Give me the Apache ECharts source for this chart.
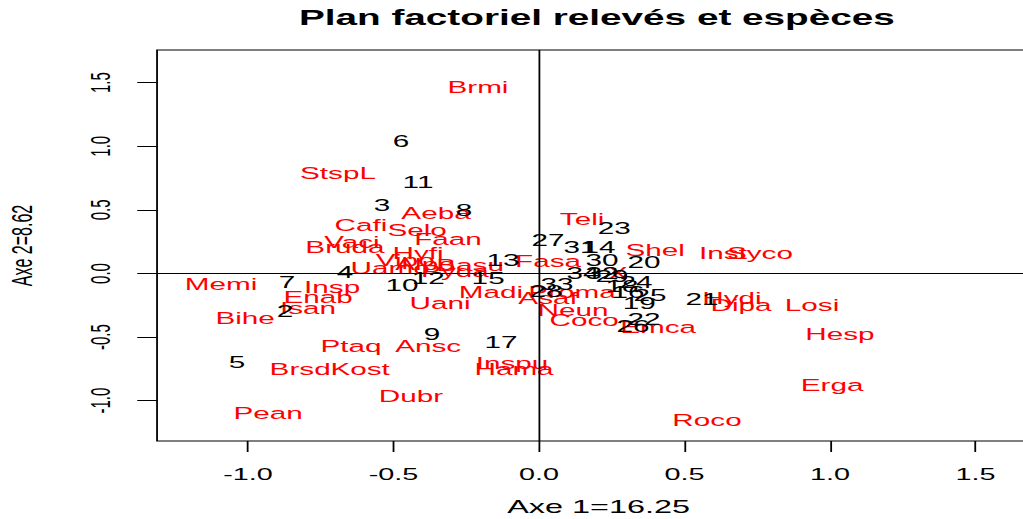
<!DOCTYPE html>
<html>
<head>
<meta charset="utf-8">
<title>Plan factoriel relevés et espèces</title>
<script src="https://cdn.jsdelivr.net/npm/echarts@6/dist/echarts.min.js"></script>
<style>
  html, body { margin: 0; padding: 0; background: #fff; overflow: hidden; width: 1023px; height: 519px; }
  /* the reference is a horizontally stretched R plot, so the chart is drawn narrow and stretched;
     its right edge runs past the window like in the reference */
  #chart { width: 578px; height: 519px; transform: scaleX(1.801); transform-origin: 0 0; }
</style>
</head>
<body>
<div id="chart"></div>
<script>
// espèces (rouge)
const speciesNames = ['Brmi', 'StspL', 'Aeba', 'Cafi', 'Selo', 'Faan', 'Vaci', 'Bruda', 'Hyfi',
  'Vipo', 'Uamo', 'Alpo', 'Pyda', 'Basu', 'Fasa', 'Teli', 'Shel', 'Inst', 'Syco',
  'Memi', 'Insp', 'Enab', 'Isan', 'Bihe', 'Ptaq', 'Ansc', 'Brsd', 'Kost', 'Uani', 'Madi',
  'Proma', 'Asaf', 'Neun', 'Coco', 'Emca', 'X', 'Hydi', 'Dipa', 'Losi', 'Hesp', 'Erga',
  'Roco', 'Dubr', 'Pean', 'Inspu', 'Hama'];
const speciesAxe1 = [-0.210, -0.691, -0.354, -0.612, -0.419, -0.313, -0.643, -0.667, -0.416,
  -0.460, -0.512, -0.392, -0.289, -0.237, 0.031, 0.148, 0.399, 0.632, 0.759,
  -1.093, -0.711, -0.759, -0.794, -1.010, -0.646, -0.381, -0.821, -0.615, -0.340, -0.165,
  0.113, 0.031, 0.117, 0.155, 0.409, 0.271, 0.663, 0.694, 0.938, 1.034, 1.007,
  0.577, -0.440, -0.931, -0.093, -0.086];
const speciesAxe2 = [1.466, 0.790, 0.476, 0.381, 0.342, 0.271, 0.248, 0.208, 0.161,
  0.106, 0.043, 0.075, 0.020, 0.067, 0.098, 0.428, 0.185, 0.161, 0.161,
  -0.083, -0.106, -0.185, -0.271, -0.350, -0.570, -0.570, -0.751, -0.751, -0.232, -0.145,
  -0.145, -0.193, -0.287, -0.366, -0.421, 0.004, -0.193, -0.248, -0.248, -0.476, -0.877,
  -1.152, -0.963, -1.097, -0.704, -0.751];

// relevés (noir)
const releveNames = ['6', '11', '3', '8', '27', '31', '14', '23', '30', '20', '13', '4', '7',
  '10', '12', '15', '2', '5', '9', '17', '34', '32', '29', '24', '18', '16', '25', '19',
  '22', '26', '21', '33', '28'];
const releveAxe1 = [-0.474, -0.416, -0.540, -0.258, 0.031, 0.141, 0.206, 0.258, 0.216, 0.361,
  -0.124, -0.667, -0.866, -0.471, -0.381, -0.175, -0.873, -1.038, -0.368, -0.131, 0.151,
  0.216, 0.251, 0.333, 0.285, 0.306, 0.381, 0.344, 0.361, 0.323, 0.560, 0.062, 0.024];
const releveAxe2 = [1.042, 0.719, 0.539, 0.499, 0.263, 0.208, 0.208, 0.358, 0.106, 0.090,
  0.106, 0.012, -0.067, -0.090, -0.035, -0.035, -0.295, -0.696, -0.476, -0.539, 0.004,
  0.004, -0.020, -0.067, -0.098, -0.145, -0.169, -0.232, -0.358, -0.413, -0.201, -0.083, -0.138];

const xTicks = [-1, -0.5, 0, 0.5, 1, 1.5];
const yTicks = [-1, -0.5, 0, 0.5, 1, 1.5];

const font = "'Liberation Sans', Arial, Helvetica, sans-serif";

const toPoints = (names, xs, ys) => names.map((n, i) => ({ name: n, value: [xs[i], ys[i]] }));

const chart = echarts.init(document.getElementById('chart'), null, { renderer: 'svg' });

// points invisibles, seul le texte est dessiné (comme text() dans R)
const labelSeries = (name, data, color) => ({
  name: name,
  type: 'scatter',
  data: data,
  symbol: 'circle',
  symbolSize: 1,
  itemStyle: { color: 'rgba(0,0,0,0)' },
  label: {
    show: true,
    position: 'inside',
    formatter: (p) => p.name,
    color: color,
    opacity: 1,
    textBorderWidth: 0,
    fontFamily: font,
    fontSize: 16.5,
    align: 'center',
    verticalAlign: 'middle'
  },
  emphasis: { disabled: true },
  silent: true
});

const speciesSeries = labelSeries('espèces', toPoints(speciesNames, speciesAxe1, speciesAxe2), '#ff0000');
speciesSeries.markLine = {
  silent: true,
  symbol: ['none', 'none'],
  label: { show: false },
  lineStyle: { color: '#000', type: 'solid', width: 1 },
  data: [{ xAxis: 0 }, { yAxis: 0 }]
};

const option = {
  animation: false,
  backgroundColor: '#fff',
  title: {
    text: 'Plan factoriel relevés et espèces',
    left: 166,
    top: 7,
    padding: 0,
    textStyle: { fontFamily: font, fontSize: 21.5, fontWeight: 'bold', color: '#000' }
  },
  grid: {
    left: 87.2,
    top: 50,
    width: 490.3,
    height: 391,
    outerBoundsMode: 'none',
    show: true,
    borderColor: '#000',
    borderWidth: 1,
    backgroundColor: 'transparent'
  },
  xAxis: {
    type: 'value',
    min: -1.3127,
    max: 1.7216,
    name: 'Axe 1=16.25',
    nameLocation: 'middle',
    nameGap: 57,
    nameTextStyle: { fontFamily: font, fontSize: 18, color: '#000' },
    axisLine: { show: false, onZero: false },
    splitLine: { show: false },
    axisTick: { show: true, length: 11, customValues: xTicks, lineStyle: { color: '#000' } },
    axisLabel: {
      customValues: xTicks,
      formatter: (v) => v.toFixed(1),
      margin: 26,
      fontFamily: font,
      fontSize: 16,
      color: '#000'
    }
  },
  yAxis: {
    type: 'value',
    min: -1.317,
    max: 1.757,
    name: 'Axe 2=8.62',
    nameLocation: 'middle',
    nameGap: 67,
    nameTextStyle: { fontFamily: font, fontSize: 16, color: '#000' },
    axisLine: { show: false, onZero: false },
    splitLine: { show: false },
    axisTick: { show: true, length: 11, customValues: yTicks, lineStyle: { color: '#000' } },
    axisLabel: {
      customValues: yTicks,
      formatter: (v) => v.toFixed(1),
      rotate: 90,
      margin: 23.5,
      fontFamily: font,
      fontSize: 15,
      color: '#000'
    }
  },
  series: [
    speciesSeries,
    labelSeries('relevés', toPoints(releveNames, releveAxe1, releveAxe2), '#000000')
  ]
};

chart.setOption(option);
</script>
</body>
</html>
